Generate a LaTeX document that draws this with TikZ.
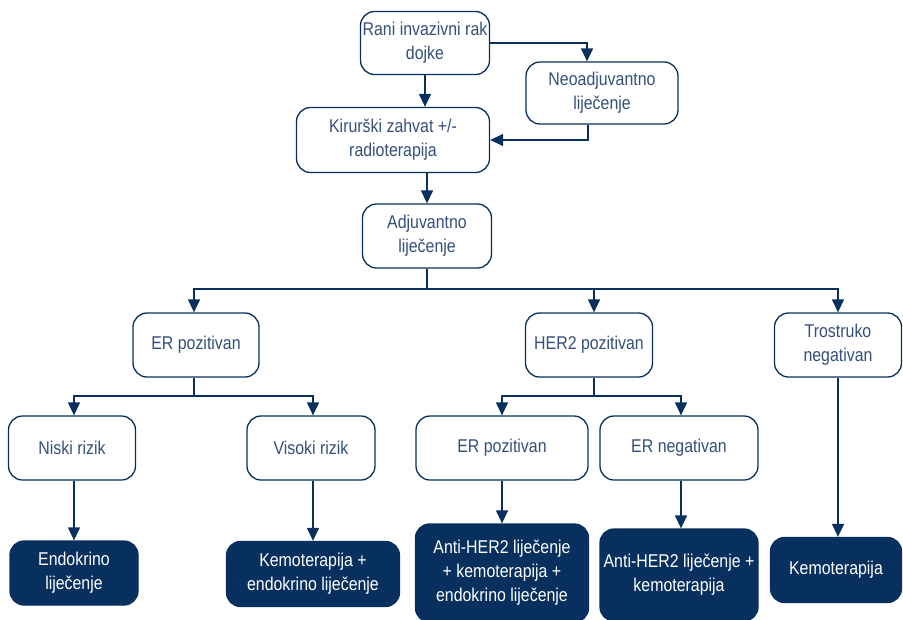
\documentclass[tikz,border=0pt]{standalone}
\usepackage{fontspec}
\setmainfont{Liberation Sans}[FakeStretch=0.86]
\usepackage{tikz}
\usetikzlibrary{arrows.meta}
\usepackage{xcolor}
\definecolor{navy}{HTML}{08305E}
\definecolor{navytext}{HTML}{34507A}

\tikzset{
  box/.style={draw=navy, line width=1.3pt, rounded corners=14pt, fill=white,
    text=navytext, align=center, inner sep=2pt,
    font=\fontsize{18.5}{24}\selectfont},
  darkbox/.style={box, fill=navy, text=white},
  arr/.style={draw=navy, line width=1.3pt, -{Triangle[length=13pt,width=12pt]}},
  ln/.style={draw=navy, line width=1.3pt}
}

\begin{document}
\begin{tikzpicture}[x=1pt, y=-1pt]
\useasboundingbox (0,0) rectangle (903,619);
% top part
\node[box, minimum width=129pt, minimum height=63pt] (rani) at (425,43) {Rani invazivni rak\\dojke};
\node[box, minimum width=152pt, minimum height=62pt] (neo) at (602,93) {Neoadjuvantno\\liječenje};
\node[box, minimum width=193pt, minimum height=65pt] (kir) at (393,140) {Kirurški zahvat +/-\\radioterapija};
\node[box, minimum width=129pt, minimum height=64pt] (adj) at (427,236) {Adjuvantno\\liječenje};
% second level
\node[box, minimum width=126pt, minimum height=64pt] (erp) at (196,345) {ER pozitivan};
\node[box, minimum width=127pt, minimum height=64pt] (her) at (589,345) {HER2 pozitivan};
\node[box, minimum width=127pt, minimum height=64pt] (tro) at (838,345) {Trostruko\\negativan};
% third level
\node[box, minimum width=127pt, minimum height=64pt] (nis) at (72,448) {Niski rizik};
\node[box, minimum width=128pt, minimum height=64pt] (vis) at (311,448) {Visoki rizik};
\node[box, minimum width=172pt, minimum height=64pt] (herp) at (502,448) {ER pozitivan};
\node[box, minimum width=158pt, minimum height=64pt] (hern) at (679,448) {ER negativan};
% treatments
\node[darkbox, minimum width=128pt, minimum height=64pt] (endo) at (74,573) {Endokrino\\liječenje};
\node[darkbox, minimum width=173pt, minimum height=65pt] (kemend) at (313,574) {Kemoterapija +\\endokrino liječenje};
\node[darkbox, minimum width=173pt, minimum height=98pt] (anti3) at (502,573) {Anti-HER2 liječenje\\+ kemoterapija +\\endokrino liječenje};
\node[darkbox, minimum width=158pt, minimum height=92pt] (anti2) at (679,575) {Anti-HER2 liječenje +\\kemoterapija};
\node[darkbox, minimum width=131pt, minimum height=65pt] (kemo) at (836,570) {Kemoterapija};

% connectors
\coordinate (neoin) at ([xshift=-15pt]neo.north);
\coordinate (neoout) at ([xshift=-14pt]neo.south);
\draw[arr] (rani.south) -- (rani.south |- kir.north);
\draw[arr] (rani.east) -| (neoin);
\draw[arr] (neoout) |- (kir.east);
\draw[arr] (adj.north |- kir.south) -- (adj.north);

\coordinate (split) at (427,289);
\draw[ln] (adj.south) -- (split);
\draw[arr] (split) -| ([xshift=-2pt]erp.north);
\draw[arr] (split) -| ([xshift=5pt]her.north);
\draw[arr] (split) -| (tro.north);
\draw[arr] (tro.south) -- (tro.south |- kemo.north);

\coordinate (erpsplit) at (194,396);
\draw[ln] (erp.south -| erpsplit) -- (erpsplit);
\draw[arr] (erpsplit) -| (nis.north -| endo.north);
\draw[arr] (erpsplit) -| (vis.north -| kemend.north);
\draw[arr] (nis.south -| endo.north) -- (endo.north);
\draw[arr] (vis.south -| kemend.north) -- (kemend.north);

\coordinate (hersplit) at (594,396);
\draw[ln] (her.south -| hersplit) -- (hersplit);
\draw[arr] (hersplit) -| (herp.north);
\draw[arr] (hersplit) -| ([xshift=2pt]hern.north);
\draw[arr] (herp.south) -- (anti3.north);
\draw[arr] ([xshift=2pt]hern.south) -- ([xshift=2pt]anti2.north);
\end{tikzpicture}
\end{document}
